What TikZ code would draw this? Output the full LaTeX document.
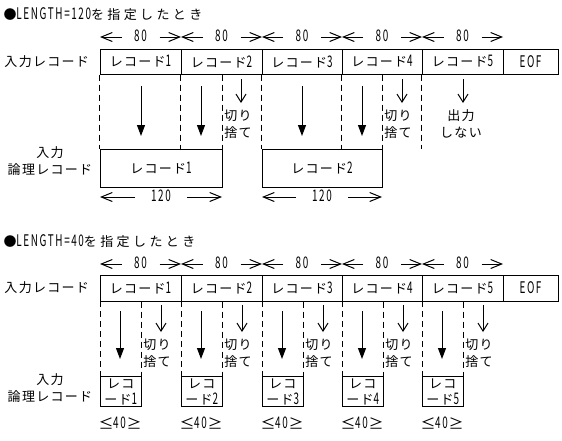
\documentclass[tikz,border=0pt]{standalone}
\usepackage{fontspec}
\setmainfont{Noto Sans CJK JP}[LetterSpace=10]
\newfontfamily\latfam{Noto Sans CJK JP}[FakeStretch=0.62,LetterSpace=10]
\newfontfamily\widefam{Noto Sans CJK JP}[LetterSpace=26]
\newcommand\latn[1]{{\latfam\fontsize{16}{16}\selectfont #1}}
\usetikzlibrary{arrows.meta}
\begin{document}
\begin{tikzpicture}[x=1pt,y=-1pt,line width=1pt,
  every node/.style={font=\fontsize{13}{17}\selectfont},
  cell/.style={draw,inner sep=0pt,minimum height=25pt},
  lbox/.style={draw,inner sep=0pt,align=center},
  txt/.style={inner sep=0pt,align=center},
  dashln/.style={dash pattern=on 6pt off 4pt},
  bigarrow/.style={-{Triangle[length=11pt,width=8pt]}},
  smallarrow/.style={-{Straight Barb[length=8pt,width=10pt]}},
  dimarrow/.style={-{Straight Barb[length=11pt,width=9pt]}}]
\useasboundingbox (0,0) rectangle (562,440);
\fill[white] (0,0) rectangle (562,440);

% ===== Section 1 =====
\node[txt,anchor=west] (t1) at (3,14) {●\latn{LENGTH=120}{\widefam を指定したとき}};
\node[txt,anchor=west] (l1) at (4,62) {入力レコード};
\node[txt] (l2) at (50,161) {入力\\論理レコード};

\node[cell,minimum width=81pt] (a1) at (140.5,61.5) {レコード\latn{1}};
\node[cell,minimum width=81pt] (a2) at (221.5,61.5) {レコード\latn{2}};
\node[cell,minimum width=80pt] (a3) at (302,61.5) {レコード\latn{3}};
\node[cell,minimum width=80pt] (a4) at (382,61.5) {レコード\latn{4}};
\node[cell,minimum width=81pt] (a5) at (462.5,61.5) {レコード\latn{5}};
\node[cell,minimum width=55pt] (aE) at (530.5,61.5) {\latn{EOF}};

\node[lbox,minimum width=122pt,minimum height=38pt] (b1) at (161,168) {レコード\latn{1}};
\node[lbox,minimum width=120pt,minimum height=38pt] (b2) at (322,168) {レコード\latn{2}};

% dimensions 80
\foreach \l/\r/\n in {100/181/1,181/262/2,262/342/3,342/422/4,422/503/5}{
  \pgfmathsetmacro\c{(\l+\r)/2}
  \node[txt] (d80\n) at (\c,36) {\latn{80}};
  \draw[dimarrow] (\c-19,37) -- (\l,37);
  \draw[dimarrow] (\c+19,37) -- (\r,37);
}
% dimensions 120
\foreach \l/\r/\n in {100/222/1,262/382/2}{
  \pgfmathsetmacro\c{(\l+\r)/2}
  \node[txt] (d120\n) at (\c,196) {\latn{120}};
  \draw[dimarrow] (\c-26,197) -- (\l,197);
  \draw[dimarrow] (\c+26,197) -- (\r,197);
}

% dashed guides
\draw[dashln] (a1.south west) -- (b1.north west);
\draw[dashln] (a2.south west) -- (a2.south west |- b1.north);
\draw[dashln] (b1.north east |- a1.south) -- (b1.north east);
\draw[dashln] (a3.south west) -- (b2.north west);
\draw[dashln] (a4.south west) -- (a4.south west |- b2.north);
\draw[dashln] (b2.north east |- a1.south) -- (b2.north east);
\draw[dashln] (a5.south west) -- (a5.south west |- b2.north);

% arrows
\foreach \x in {141,201,302,362}{\draw[bigarrow] (\x,86) -- (\x,136);}
\foreach \x in {241,402,463}{\draw[smallarrow] (\x,79) -- (\x,103);}
\node[txt] (k1) at (238,124) {切り\\捨て};
\node[txt] (k2) at (398,124) {切り\\捨て};
\node[txt] (k3) at (461,124) {出力\\しない};

% ===== Section 2 =====
\node[txt,anchor=west] (t2) at (3,241) {●\latn{LENGTH=40}{\widefam を指定したとき}};
\node[txt,anchor=west] (l3) at (4,288) {入力レコード};
\node[txt] (l4) at (50,388) {入力\\論理レコード};

\node[cell,minimum width=81pt,minimum height=26pt] (c1) at (140.5,288) {レコード\latn{1}};
\node[cell,minimum width=81pt,minimum height=26pt] (c2) at (221.5,288) {レコード\latn{2}};
\node[cell,minimum width=80pt,minimum height=26pt] (c3) at (302,288) {レコード\latn{3}};
\node[cell,minimum width=80pt,minimum height=26pt] (c4) at (382,288) {レコード\latn{4}};
\node[cell,minimum width=81pt,minimum height=26pt] (c5) at (462.5,288) {レコード\latn{5}};
\node[cell,minimum width=55pt,minimum height=26pt] (cE) at (530.5,288) {\latn{EOF}};

\foreach \l/\r/\n in {100/181/1,181/262/2,262/342/3,342/422/4,422/503/5}{
  \pgfmathsetmacro\c{(\l+\r)/2}
  \node[txt] (e80\n) at (\c,263) {\latn{80}};
  \draw[dimarrow] (\c-19,264) -- (\l,264);
  \draw[dimarrow] (\c+19,264) -- (\r,264);
}

\foreach \l/\n in {100/1,181/2,262/3,342/4,422/5}{
  \node[lbox,minimum width=40.5pt,minimum height=30pt,anchor=north west,font=\fontsize{13}{16}\selectfont] (f\n) at (\l,376) {レコ\\ード\latn{\n}};
  \node[txt,font=\fontsize{15}{15}\selectfont] (gl\n) at (\l+6,424) {≤};
  \node[txt] (g\n) at (\l+19.5,423) {\latn{40}};
  \node[txt,font=\fontsize{15}{15}\selectfont] (gr\n) at (\l+34,424) {≥};
  \draw[dashln] (\l,301) -- (f\n.north west);
  \draw[dashln] (f\n.north east |- c1.south) -- (f\n.north east);
  \draw[bigarrow] (\l+20,311) -- (\l+20,359);
  \draw[smallarrow] (\l+61,305) -- (\l+61,332);
  \node[txt] (h\n) at (\l+57,353) {切り\\捨て};
}
\end{tikzpicture}
\end{document}
